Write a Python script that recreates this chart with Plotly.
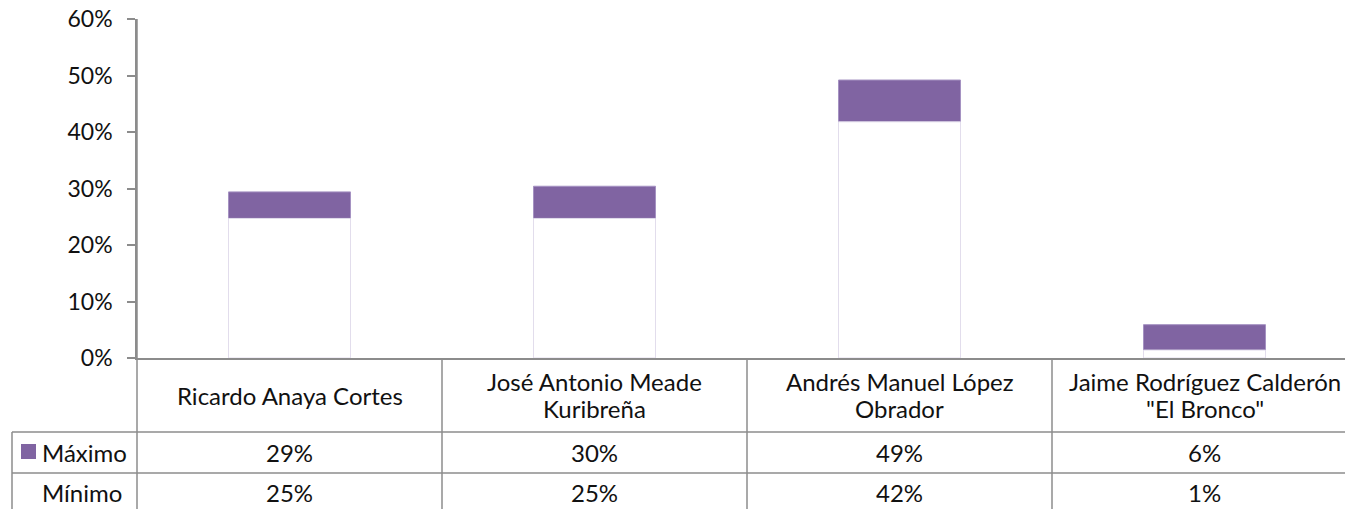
import plotly.graph_objects as go

categories = ["Ricardo Anaya Cortes", "José Antonio Meade<br>Kuribreña",
              "Andrés Manuel López<br>Obrador", "Jaime Rodríguez Calderón<br>\"El Bronco\""]
maximo = [0.294, 0.304, 0.492, 0.059]
minimo = [0.247, 0.247, 0.418, 0.014]
series_names = ["Máximo", "Mínimo"]
ytick_vals = [0, 0.1, 0.2, 0.3, 0.4, 0.5, 0.6]

W, H = 1345, 509
L, R, T, B = 137, 0, 19, 151
PW, PH = W - L - R, H - T - B
FONT = "Lato"
FS = 24
GRAY = "#8C8C8C"
PURPLE = "#8064A2"
TXT = "#111111"


def px(x):
    return (x - L) / PW


def py(y):
    return (H - B - y) / PH


xs = list(range(len(categories)))

fig = go.Figure()
fig.add_trace(go.Bar(x=xs, y=maximo, width=0.4, name=series_names[0],
                     marker=dict(color=PURPLE, line=dict(color="#A592C2", width=1))))
fig.add_trace(go.Bar(x=xs, y=minimo, width=0.4, name=series_names[1],
                     marker=dict(color="white", line=dict(color="#E2DDEC", width=1))))

shapes = []
line = dict(color=GRAY, width=1.5)
for yy in (432, 473):
    shapes.append(dict(type="line", xref="paper", yref="paper", x0=px(12), x1=1.02,
                       y0=py(yy), y1=py(yy), line=line))
shapes.append(dict(type="line", xref="paper", yref="paper", x0=px(12), x1=px(12),
                   y0=py(432), y1=py(520), line=line))
shapes.append(dict(type="line", xref="paper", yref="paper", x0=0, x1=0,
                   y0=1, y1=py(520), line=line))
for i in range(len(categories) - 1):
    shapes.append(dict(type="line", xref="x", yref="paper", x0=i + 0.5, x1=i + 0.5,
                       y0=0, y1=py(520), line=line))
shapes.append(dict(type="rect", xref="paper", yref="paper", x0=px(21), x1=px(36),
                   y0=py(459), y1=py(444), fillcolor=PURPLE, line=dict(width=0)))

font = dict(family=FONT, size=FS, color=TXT)
annotations = []
LINE_GAP = 27
for i, c in enumerate(categories):
    parts = c.split("<br>")
    n = len(parts)
    for k, part in enumerate(parts):
        yc = 395 + (k - (n - 1) / 2) * LINE_GAP
        annotations.append(dict(x=i, y=py(yc), xref="x", yref="paper", text=part,
                                showarrow=False, font=font, xanchor="center",
                                yanchor="middle"))
    annotations.append(dict(x=i, y=py(452), xref="x", yref="paper",
                            text=f"{round(maximo[i] * 100)}%", showarrow=False,
                            font=font, xanchor="center", yanchor="middle"))
    annotations.append(dict(x=i, y=py(492), xref="x", yref="paper",
                            text=f"{round(minimo[i] * 100)}%", showarrow=False,
                            font=font, xanchor="center", yanchor="middle"))
for name, yy in zip(series_names, (452, 492)):
    annotations.append(dict(x=px(40), y=py(yy), xref="paper", yref="paper", text=name,
                            showarrow=False, font=font, xanchor="left", yanchor="middle"))

fig.update_layout(
    width=W, height=H,
    margin=dict(l=L, r=R, t=T, b=B, pad=0),
    paper_bgcolor="white", plot_bgcolor="white",
    barmode="overlay", showlegend=False,
    font=dict(family=FONT, size=23, color=TXT),
    xaxis=dict(range=[-0.5, -0.5 + PW / 305], showticklabels=False, showgrid=False,
               zeroline=False, showline=True, linecolor=GRAY, linewidth=1.5, ticks=""),
    yaxis=dict(range=[0, 0.6], tickvals=ytick_vals, tickformat=".0%", showgrid=False,
               zeroline=False, showline=True, linecolor=GRAY, linewidth=1.5,
               ticks="outside", ticklen=8, tickcolor=GRAY, tickwidth=1.5,
               ticklabelstandoff=10, tickfont=dict(family=FONT, size=23, color=TXT)),
    shapes=shapes, annotations=annotations,
)

fig.write_html("out.html", config={"displayModeBar": False},
               post_script="document.body.style.margin='0';document.body.style.overflow='hidden';")
